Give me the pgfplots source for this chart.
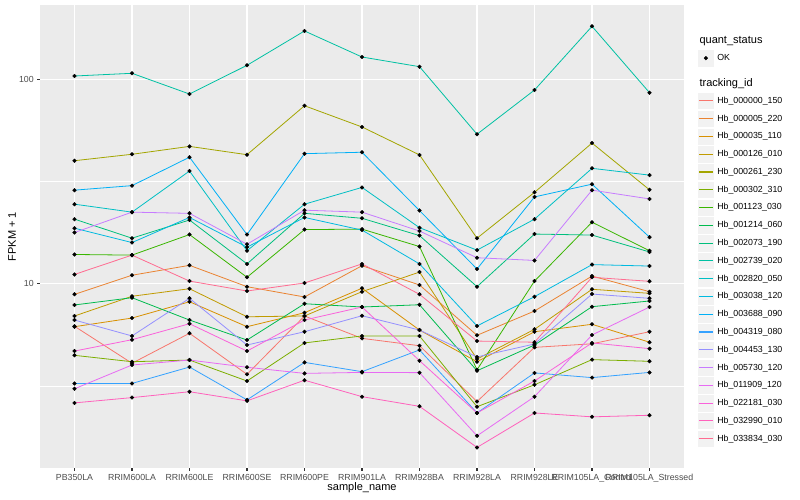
\documentclass[border=0pt]{standalone}
\usepackage{fontspec}
\setmainfont{Liberation Sans}
\usepackage{pgfplots}
\usepackage{pgfplotstable}
\pgfplotsset{compat=1.18}

% ggplot hue palette, 20 levels, in legend order
\definecolor{c1}{HTML}{F8766D}
\definecolor{c2}{HTML}{EA8331}
\definecolor{c3}{HTML}{D89000}
\definecolor{c4}{HTML}{C09B00}
\definecolor{c5}{HTML}{A3A500}
\definecolor{c6}{HTML}{7CAE00}
\definecolor{c7}{HTML}{39B600}
\definecolor{c8}{HTML}{00BB4E}
\definecolor{c9}{HTML}{00BF7D}
\definecolor{c10}{HTML}{00C1A3}
\definecolor{c11}{HTML}{00BFC4}
\definecolor{c12}{HTML}{00BAE0}
\definecolor{c13}{HTML}{00B0F6}
\definecolor{c14}{HTML}{35A2FF}
\definecolor{c15}{HTML}{9590FF}
\definecolor{c16}{HTML}{C77CFF}
\definecolor{c17}{HTML}{E76BF3}
\definecolor{c18}{HTML}{FA62DB}
\definecolor{c19}{HTML}{FF62BC}
\definecolor{c20}{HTML}{FF6C91}
\definecolor{panel}{HTML}{EBEBEB}
\definecolor{keybg}{HTML}{F2F2F2}
\definecolor{tickgrey}{HTML}{333333}
\definecolor{labgrey}{HTML}{4D4D4D}

% FPKM + 1, one row per sample, one column per tracking id
\pgfplotstableread{
x  s1   s2    s3   s4   s5   s6   s7    s8   s9   s10   s11  s12  s13  s14  s15  s16  s17  s18  s19  s20
0  6.19 8.87  6.16 6.95 40.0 4.46 13.9  7.87 20.7 103.9 24.5 18.7 28.7 3.25 6.64 17.8 3.06 4.68 2.61 11.1
1  4.08 11.0  6.79 8.68 43.0 4.15 13.8  8.54 16.7 107.1 22.4 15.9 30.2 3.25 5.55 22.4 4.00 5.32 2.77 13.8
2  5.72 12.3  8.16 9.45 47.0 4.23 17.4  6.64 20.5 84.8  35.6 21.1 41.6 3.91 8.48 22.1 4.23 6.37 2.96 10.3
3  3.60 9.67  6.16 6.89 42.8 3.34 10.75 5.30 12.5 117.2 14.5 15.1 17.4 2.70 5.01 15.6 3.90 4.68 2.67 9.21
4  6.95 8.61  7.21 6.95 74.3 5.13 18.4  7.98 22.1 172.6 24.5 21.1 43.3 4.12 5.82 22.9 3.64 6.64 3.37 10.08
5  5.40 12.25 9.50 9.14 58.5 5.55 18.5  7.69 20.9 128.7 29.6 18.3 44.0 3.71 6.97 22.4 3.68 7.69 2.80 12.5
6  4.97 9.86  5.93 11.4 42.7 5.55 15.2  7.89 17.2 115.4 18.8 12.5 22.8 4.74 5.93 18.1 3.67 4.20 2.51 8.87
7  2.65 5.59  4.15 4.28 16.7 2.50 3.79  3.75 9.67 53.9  14.6 6.21 11.8 2.33 4.38 13.4 1.80 2.33 1.58 5.24
8  4.88 7.35  5.82 5.98 28.0 3.20 10.3  5.01 17.5 88.7  20.7 8.64 26.6 3.66 5.07 13.0 2.80 3.34 2.33 5.17
9  5.08 10.9  6.33 9.39 48.8 4.25 20.0  7.72 17.3 181.9 36.7 12.4 30.7 3.47 8.90 28.7 5.61 5.13 2.23 10.75
10 5.82 9.14  5.17 8.97 28.8 4.17 14.5  8.23 14.3 86.1  34.0 12.2 16.9 3.68 8.48 26.0 7.69 4.81 2.27 10.27
}\fpkm

\begin{document}
\begin{tikzpicture}[x=1bp,y=1bp]
\path[use as bounding box, fill=white] (0,0) rectangle (800,500);

\begin{axis}[
  at={(40bp,32bp)}, anchor=south west,
  scale only axis, width=644bp, height=463bp,
  xmin=-0.6, xmax=10.6,
  ymode=log, ymin=1.253, ymax=231.3,
  xtick={0,...,10},
  xticklabels={PB350LA, RRIM600LA, RRIM600LE, RRIM600SE, RRIM600PE, RRIM901LA,
    RRIM928BA, RRIM928LA, RRIM928LE, RRIM105LA\_Control, RRIM105LA\_Stressed},
  ytick={10,100}, yticklabels={10,100},
  minor ytick={3.1623,31.623},
  grid=both,
  major grid style={white, line width=1.07bp},
  minor grid style={white, line width=0.53bp},
  axis background/.style={fill=panel},
  axis line style={draw=none},
  tick pos=left, tick align=outside,
  major tick length=2.75bp, minor tick length=0pt,
  tick style={tickgrey, line width=1.07bp},
  xticklabel style={font=\fontsize{8.8bp}{10bp}\selectfont, text=labgrey},
  yticklabel style={font=\fontsize{8.8bp}{10bp}\selectfont, text=labgrey},
  xlabel={sample\_name}, ylabel={FPKM + 1},
  xlabel style={at={(axis description cs:0.5,-0.0432)}, anchor=center,
    font=\fontsize{11bp}{13bp}\selectfont},
  ylabel style={at={(axis description cs:-0.0435,0.5)}, anchor=center,
    font=\fontsize{11bp}{13bp}\selectfont},
  legend entries={Hb\_000000\_150, Hb\_000005\_220, Hb\_000035\_110, Hb\_000126\_010,
    Hb\_000261\_230, Hb\_000302\_310, Hb\_001123\_030, Hb\_001214\_060,
    Hb\_002073\_190, Hb\_002739\_020, Hb\_002820\_050, Hb\_003038\_120,
    Hb\_003688\_090, Hb\_004319\_080, Hb\_004453\_130, Hb\_005730\_120,
    Hb\_011909\_120, Hb\_022181\_030, Hb\_032990\_010, Hb\_033834\_030},
  legend cell align=left,
  legend style={at={(axis description cs:1.0202,0.8121)}, anchor=north west,
    draw=none, fill=none, inner sep=0pt, outer sep=0pt, row sep=0pt, column sep=2.5bp,
    font=\fontsize{8.8bp}{10bp}\selectfont, nodes={inner sep=0pt}},
  legend image code/.code={
    \fill[keybg, draw=white, line width=0.5bp] (0bp,-8.64bp) rectangle (17.28bp,8.64bp);
    \draw[#1, line width=1.1bp] (1.73bp,0bp) -- (15.55bp,0bp);
  },
]
% lines first, then all points on top
\pgfplotsinvokeforeach{1,...,20}{
  \addplot[c#1, line width=0.8bp, mark=none] table[x=x, y=s#1] {\fpkm};
}
\pgfplotsinvokeforeach{1,...,20}{
  \addplot[only marks, mark=*, mark size=1.85bp, black, forget plot] table[x=x, y=s#1] {\fpkm};
}
\end{axis}

% second legend: quant_status
\begin{axis}[
  at={(40bp,32bp)}, anchor=south west,
  scale only axis, width=644bp, height=463bp,
  hide axis, xmin=0, xmax=1, ymin=0, ymax=1,
  legend cell align=left,
  legend style={at={(axis description cs:1.0202,0.9043)}, anchor=north west,
    draw=none, fill=none, inner sep=0pt, outer sep=0pt, row sep=0pt, column sep=2.5bp,
    font=\fontsize{8.8bp}{10bp}\selectfont, nodes={inner sep=0pt}},
  legend image code/.code={
    \fill[keybg, draw=white, line width=0.5bp] (0bp,-8.64bp) rectangle (17.28bp,8.64bp);
    \draw[#1] plot coordinates {(8.64bp,0bp)};
  },
]
\addlegendimage{only marks, mark=*, mark size=1.85bp, black}
\addlegendentry{OK}
\end{axis}

\node[anchor=base west, font=\fontsize{11bp}{13bp}\selectfont] at (696,456.7) {quant\_status};
\node[anchor=base west, font=\fontsize{11bp}{13bp}\selectfont] at (696,413.3) {tracking\_id};
\end{tikzpicture}
\end{document}
